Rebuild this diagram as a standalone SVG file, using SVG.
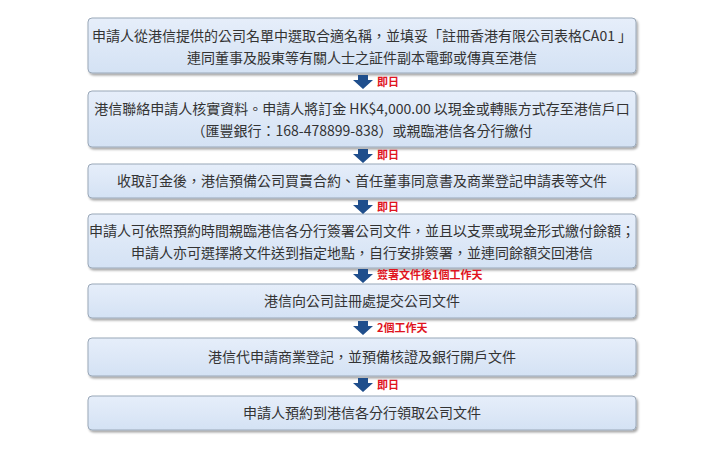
<svg xmlns="http://www.w3.org/2000/svg" width="720" height="450" viewBox="0 0 720 450">
<defs>
<linearGradient id="g" x1="0" y1="0" x2="0" y2="1"><stop offset="0" stop-color="#e6eefa"/><stop offset="1" stop-color="#d4e2f4"/></linearGradient>
<filter id="sh" x="-5%" y="-20%" width="110%" height="150%"><feDropShadow dx="1.5" dy="2" stdDeviation="1.2" flood-color="#000" flood-opacity="0.35"/></filter>
<path id="ar" d="M-5,0 H5 V5 H10 L0,14 L-10,5 H-5 Z" fill="#1f4e8c"/>
</defs>
<style>
.b{fill:url(#g);stroke:#9aa8b8;stroke-width:1;filter:url(#sh)}
.t{font-family:"Noto Sans CJK TC","Noto Sans",sans-serif;font-size:14px;fill:#333;text-anchor:middle}
.l{font-family:"Noto Sans CJK TC","Noto Sans",sans-serif;font-size:11px;font-weight:bold;fill:#e0141e}
</style>
<rect width="720" height="450" fill="#fff"/>
<g id="n1"><rect class="b" x="88" y="18" width="548" height="55" rx="4"/>
<text class="t" x="362" y="41">申請人從港信提供的公司名單中選取合適名稱，並填妥「註冊香港有限公司表格CA01 」</text>
<text class="t" x="362" y="63">連同董事及股東等有關人士之証件副本電郵或傳真至港信</text></g>
<g id="n2"><rect class="b" x="88" y="91" width="548" height="56" rx="4"/>
<text class="t" x="362" y="114">港信聯絡申請人核實資料。申請人將訂金 HK$4,000.00 以現金或轉賬方式存至港信戶口</text>
<text class="t" x="362" y="136">（匯豐銀行：168-478899-838）或親臨港信各分行繳付</text></g>
<g id="n3"><rect class="b" x="88" y="164" width="548" height="34" rx="4"/>
<text class="t" x="362" y="186">收取訂金後，港信預備公司買賣合約、首任董事同意書及商業登記申請表等文件</text></g>
<g id="n4"><rect class="b" x="88" y="214" width="548" height="54" rx="4"/>
<text class="t" x="362" y="236">申請人可依照預約時間親臨港信各分行簽署公司文件，並且以支票或現金形式繳付餘額；</text>
<text class="t" x="362" y="258">申請人亦可選擇將文件送到指定地點，自行安排簽署，並連同餘額交回港信</text></g>
<g id="n5"><rect class="b" x="88" y="284" width="548" height="34" rx="4"/>
<text class="t" x="362" y="306">港信向公司註冊處提交公司文件</text></g>
<g id="n6"><rect class="b" x="88" y="338" width="548" height="38" rx="4"/>
<text class="t" x="362" y="362">港信代申請商業登記，並預備核證及銀行開戶文件</text></g>
<g id="n7"><rect class="b" x="88" y="396" width="548" height="34" rx="4"/>
<text class="t" x="362" y="418">申請人預約到港信各分行領取公司文件</text></g>
<g id="connectors">
<use href="#ar" x="363" y="75"/><text class="l" x="377" y="86">即日</text>
<use href="#ar" x="363" y="149"/><text class="l" x="377" y="159">即日</text>
<use href="#ar" x="363" y="200"/><text class="l" x="377" y="211">即日</text>
<use href="#ar" x="363" y="269"/><text class="l" x="377" y="279">簽署文件後1個工作天</text>
<use href="#ar" x="363" y="321"/><text class="l" x="377" y="332">2個工作天</text>
<use href="#ar" x="363" y="378"/><text class="l" x="377" y="389">即日</text>
</g>
</svg>
